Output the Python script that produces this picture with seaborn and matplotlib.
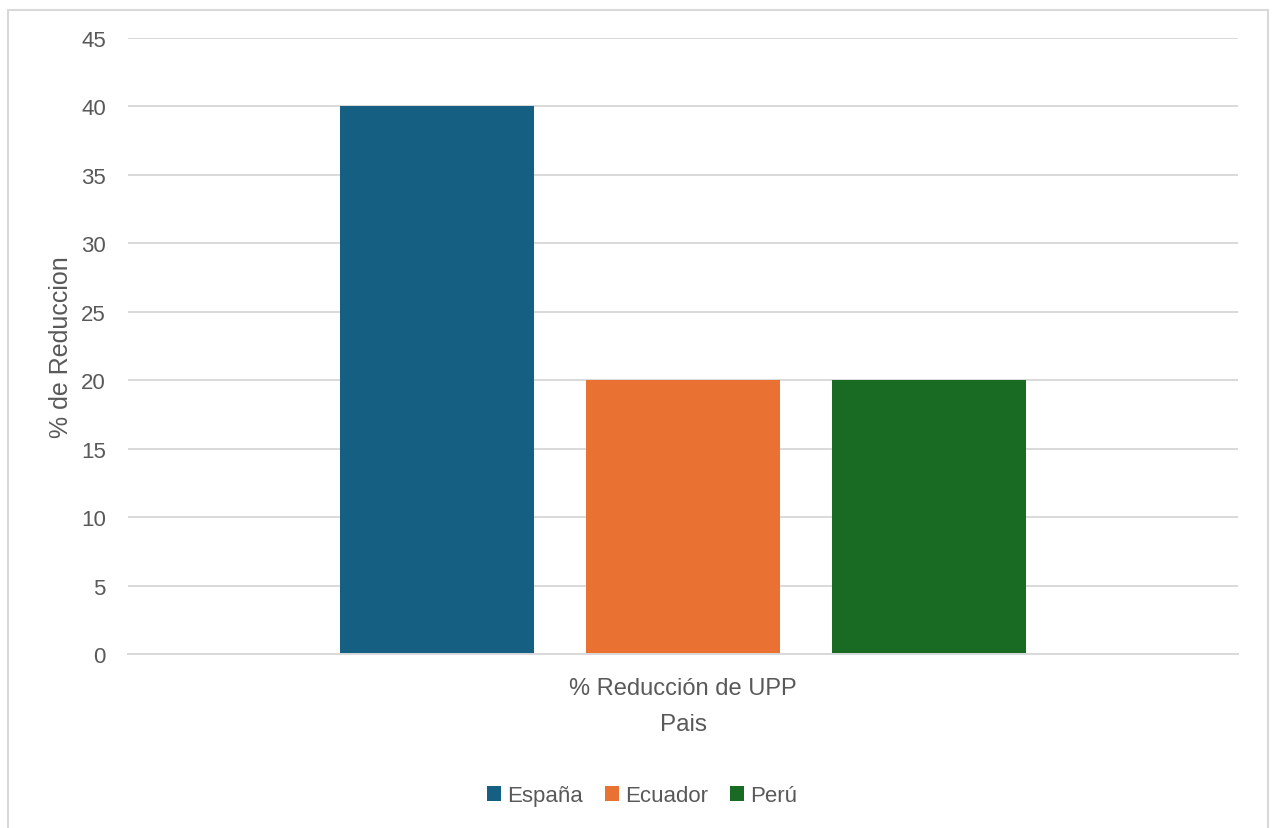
import matplotlib
matplotlib.use("Agg")
import matplotlib.pyplot as plt
import seaborn as sns
import pandas as pd
from matplotlib.lines import Line2D
from matplotlib.patches import Patch

# Data
categoria = ["% Reducción de UPP"]
paises = ["España", "Ecuador", "Perú"]
reduccion = [40, 20, 20]
colores = ["#156082", "#E97132", "#196B24"]
y_ticks = [0, 5, 10, 15, 20, 25, 30, 35, 40, 45]

df = pd.DataFrame({
    "Categoria": categoria * len(paises),
    "Pais": paises,
    "Reduccion": reduccion,
})

sns.set_theme(style="white")
plt.rcParams["font.family"] = ["Liberation Sans", "DejaVu Sans"]
text_color = "#595959"
grid_color = "#D9D9D9"

W, H = 1275, 829
fig = plt.figure(figsize=(W / 100, H / 100), dpi=100)
ax = fig.add_axes([128 / W, 1 - 655 / H, (1238 - 128) / W, (655 - 39) / H])

sns.barplot(
    data=df, x="Categoria", y="Reduccion", hue="Pais",
    palette=colores, hue_order=paises, width=0.665, gap=0.211,
    saturation=1, linewidth=0, ax=ax, legend=False,
)

ax.set_xlim(-0.5, 0.5)
ax.set_ylim(0, 45)
ax.set_yticks(y_ticks)
ax.yaxis.grid(True, color=grid_color, linewidth=1.4)
ax.set_axisbelow(True)
for side in ["top", "right", "left"]:
    ax.spines[side].set_visible(False)
ax.spines["bottom"].set_color(grid_color)
ax.spines["bottom"].set_linewidth(1.4)
ax.tick_params(axis="both", length=0, labelsize=16, labelcolor=text_color)
ax.tick_params(axis="y", pad=16)
ax.tick_params(axis="x", pad=16.5, labelsize=17)

ax.set_ylabel("% de Reduccion", fontsize=18, color=text_color, labelpad=6)
ax.set_xlabel("Pais", fontsize=17.5, color=text_color, labelpad=10)

handles = [Patch(facecolor=c, edgecolor="none") for c in colores]
fig.legend(
    handles, paises, loc="center", bbox_to_anchor=(642 / W, 1 - 797 / H),
    ncol=3, frameon=False, fontsize=16, labelcolor=text_color,
    handlelength=0.63, handleheight=0.63, handletextpad=0.27, columnspacing=1.0,
)

# Chart area border
border_kw = dict(color=grid_color, linewidth=1.5, transform=fig.transFigure)
x0, x1, y_top = 7.5 / W, 1267.5 / W, 1 - 10.5 / H
fig.add_artist(Line2D([x0, x1], [y_top, y_top], **border_kw))
fig.add_artist(Line2D([x0, x0], [0, y_top], **border_kw))
fig.add_artist(Line2D([x1, x1], [0, y_top], **border_kw))

fig.savefig("out.png", dpi=100, facecolor="white")
